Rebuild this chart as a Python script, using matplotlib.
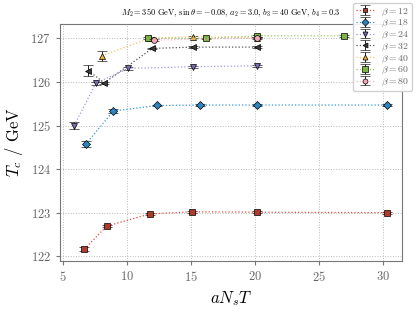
import numpy as np
import matplotlib.pyplot as plt

plt.rcParams['font.family'] = 'serif'
plt.rcParams['font.serif'] = ['cmr10', 'DejaVu Serif']
plt.rcParams['mathtext.fontset'] = 'cm'
plt.rcParams['axes.formatter.use_mathtext'] = True

betas = [12, 18, 24, 32, 40, 60, 80]

x12 = [6.7, 8.44, 11.8, 15.1, 20.2, 30.3]
y12 = [122.16, 122.69, 122.97, 123.02, 123.01, 123.0]
e12 = [0.04, 0.03, 0.02, 0.02, 0.02, 0.02]

x18 = [6.8, 8.96, 12.37, 15.73, 20.2, 30.3]
y18 = [124.57, 125.33, 125.46, 125.47, 125.47, 125.47]
e18 = [0.07, 0.04, 0.02, 0.02, 0.02, 0.02]

x24 = [5.9, 7.6, 10.13, 15.2, 20.2]
y24 = [125.0, 125.97, 126.31, 126.35, 126.37]
e24 = [0.08, 0.03, 0.03, 0.02, 0.02]

x32 = [7.0, 8.26, 12.0, 15.2, 20.2]
y32 = [126.26, 125.98, 126.77, 126.8, 126.8]
e32 = [0.13, 0.03, 0.02, 0.02, 0.02]

x40 = [8.05, 11.8, 15.16, 20.2]
y40 = [126.6, 127.0, 127.04, 127.02]
e40 = [0.11, 0.03, 0.02, 0.02]

x60 = [11.7, 16.2, 20.2, 27.0]
y60 = [127.01, 127.0, 127.06, 127.06]
e60 = [0.03, 0.02, 0.02, 0.02]

x80 = [12.16, 20.2]
y80 = [126.96, 127.01]
e80 = [0.03, 0.02]

xs = [x12, x18, x24, x32, x40, x60, x80]
ys = [y12, y18, y24, y32, y40, y60, y80]
es = [e12, e18, e24, e32, e40, e60, e80]

markers = ['s', 'D', 'v', '<', '^', 's', 'o']
face = ['#b03a2e', '#2e86c1', '#7d6bb5', '#3d3d3d', '#f0b030', '#7cb342', '#f4a7b9']
line = ['#e74c3c', '#3498db', '#a597e0', '#555555', '#f8c471', '#9ccc65', '#f5b7c5']
msize = [3.8, 4.2, 4.2, 4.2, 4.2, 4.6, 4.2]

fig = plt.figure(figsize=(4.15, 3.11), dpi=100)
ax = fig.add_axes([0.1446, 0.1608, 0.8241, 0.762])

for i, b in enumerate(betas):
    ax.errorbar(xs[i], ys[i], yerr=es[i], fmt=markers[i], ls=':', lw=0.9,
                color=line[i], mfc=face[i], mec='black', mew=0.5, ms=msize[i],
                ecolor='#222222', elinewidth=0.7, capsize=3.5, capthick=0.7,
                label=r'$\beta = %d$' % b, zorder=3 + i * 0.1)

ax.set_xlim(4.8, 31.5)
ax.set_ylim(121.89, 127.33)
ax.set_xticks([5, 10, 15, 20, 25, 30])
ax.set_yticks([122, 123, 124, 125, 126, 127])
ax.grid(True, ls=':', color='#bbbbbb', lw=0.7)
for s in ax.spines.values():
    s.set_color('#777777')
ax.tick_params(labelsize=9, colors='#777777', labelcolor='#666666', length=3)
ax.set_xlabel(r'$aN_sT$', fontsize=12)
ax.set_ylabel(r'$T_c$ / GeV', fontsize=12)
ax.set_title(r'$M_2 = 350$ GeV, $\sin\theta = -0.08$, $a_2 = 3.0$, $b_3 = 40$ GeV, $b_4 = 0.3$',
             fontsize=6, pad=6)

leg = fig.legend(loc='upper right', bbox_to_anchor=(0.997, 0.995), fontsize=7,
                 handlelength=2.0, labelspacing=0.05, borderpad=0.3, framealpha=0.9,
                 edgecolor='#cccccc', fancybox=True, handletextpad=0.6,
                 markerscale=0.85, borderaxespad=0.2)
for t in leg.get_texts():
    t.set_color('#666666')

fig.savefig('out.png', dpi=100)
